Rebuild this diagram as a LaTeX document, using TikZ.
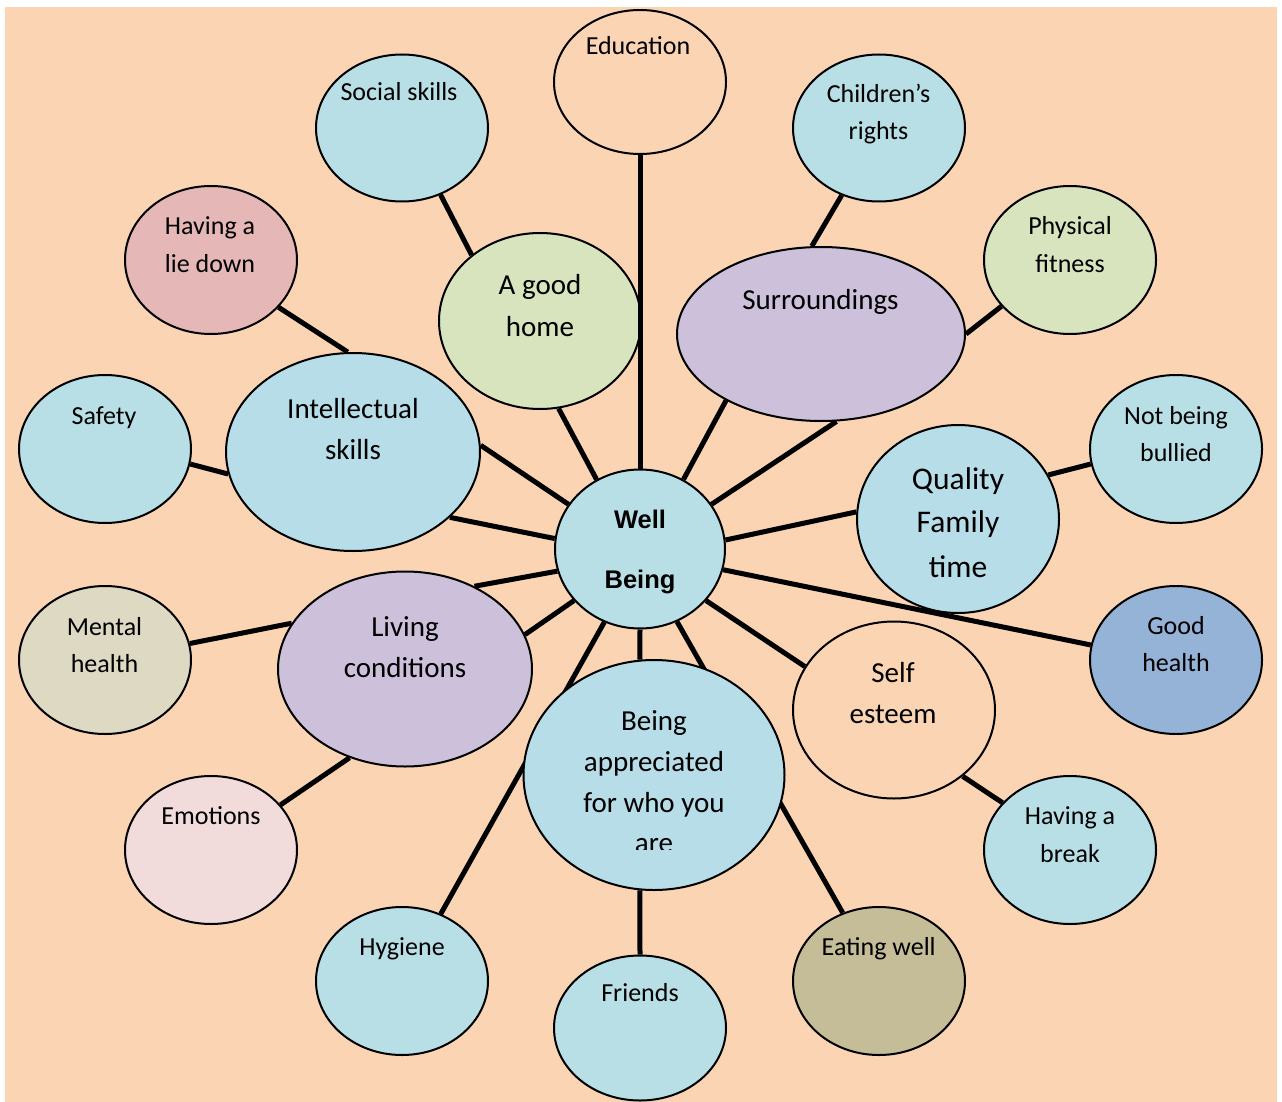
\documentclass[tikz,border=0pt]{standalone}
\usepackage{fontspec}
\newfontfamily\carl{Carlito}
\newfontfamily\arb{Liberation Sans}
\usetikzlibrary{shapes.geometric,backgrounds}
\definecolor{peach}{HTML}{FBD4B4}
\definecolor{cyanA}{HTML}{B8DFE5}
\definecolor{cyanB}{HTML}{B6DDE8}
\definecolor{greenA}{HTML}{D7E4BD}
\definecolor{lavA}{HTML}{CCC0DA}
\definecolor{pinkA}{HTML}{E5B8B7}
\definecolor{beigeA}{HTML}{DDD9C3}
\definecolor{blueA}{HTML}{95B3D7}
\definecolor{pinkB}{HTML}{F2DCDB}
\definecolor{oliveA}{HTML}{C4BD97}
\tikzset{
  bub/.style={ellipse, draw=black, line width=2pt, inner sep=0pt},
  sz/.style 2 args={minimum width=#1pt, minimum height=#2pt},
  ts/.style={anchor=base, inner sep=0pt, font=\carl\fontsize{26}{30}\selectfont},
  tm/.style={anchor=base, inner sep=0pt, font=\carl\fontsize{29}{34}\selectfont},
  tl/.style={anchor=base, inner sep=0pt, font=\carl\fontsize{31.5}{36}\selectfont},
  tb/.style={anchor=base, inner sep=0pt, font=\arb\bfseries\fontsize{25.5}{30}\selectfont},
  conn/.style={line width=5pt, draw=black}
}
\begin{document}
\begin{tikzpicture}[x=1pt,y=-1pt]
\useasboundingbox (0,0) rectangle (1282,1102);
\begin{scope}[on background layer]
  \fill[white] (0,0) rectangle (1282,1102);
  \fill[peach] (5,7) rectangle (1277,1102);
\end{scope}
% bubbles
\node[bub, fill=peach, sz={172}{144}] (edu) at (640,82) {};
\node[bub, fill=cyanA, sz={172}{147}] (soc) at (402,128) {};
\node[bub, fill=cyanA, sz={172}{147}] (chr) at (879,128) {};
\node[bub, fill=pinkA, sz={172}{148}] (lie) at (211,260) {};
\node[bub, fill=greenA, sz={202}{176}] (home) at (540,321) {};
\node[bub, fill=lavA, sz={288}{174}] (sur) at (821,334) {};
\node[bub, fill=greenA, sz={172}{148}] (fit) at (1070,260) {};
\node[bub, fill=cyanA, sz={172}{148}] (saf) at (105,449) {};
\node[bub, fill=cyanB, sz={254}{198}] (int) at (353,452) {};
\node[bub, fill=cyanA, sz={172}{148}] (bul) at (1176,449) {};
\node[bub, fill=cyanB, sz={202}{188}] (qft) at (958,519) {};
\node[bub, fill=cyanA, sz={170}{159}] (wb) at (640,549) {};
\node[bub, fill=beigeA, sz={172}{148}] (men) at (105,660) {};
\node[bub, fill=lavA, sz={254}{195}] (liv) at (405,669) {};
\node[bub, fill=blueA, sz={172}{148}] (gh) at (1176,660) {};
\node[bub, fill=peach, sz={202}{177}] (self) at (894,710) {};
\node[bub, fill=cyanB, sz={261}{230}] (app) at (654,775) {};
\node[bub, fill=pinkB, sz={172}{148}] (emo) at (211,850) {};
\node[bub, fill=cyanA, sz={172}{148}] (brk) at (1070,850) {};
\node[bub, fill=cyanA, sz={172}{148}] (hyg) at (402,981) {};
\node[bub, fill=cyanA, sz={172}{145}] (fri) at (640,1028) {};
\node[bub, fill=oliveA, sz={172}{148}] (eat) at (879,981) {};
% connectors
\begin{scope}[on background layer]
  \draw[conn] (home.-78) -- (wb.122);
  \draw[conn] (sur.215) -- (wb.58);
  \draw[conn] (sur.-80) -- (wb.32);
  \draw[conn] (int.3.6) -- (wb.148);
  \draw[conn] (int.-34.5) -- (wb.173);
  \draw[conn] (qft.176) -- (wb.6);
  \draw[conn] (wb.-14.5) -- (gh.170.5);
  \draw[conn] (liv.50) -- (wb.195);
  \draw[conn] (liv.16) -- (wb.218);
  \draw[conn] (wb.-38) -- (self.154);
  \draw[conn] (wb.270) -- (app.97);
  \draw[conn] (wb.244) -- (hyg.60);
  \draw[conn] (wb.-63) -- (eat.118);
  \draw[conn] (app.263) -- (fri.90);
  \draw[conn] (soc.-60) -- (home.136);
  \draw[conn] (chr.241) -- (sur.96);
  \draw[conn] (lie.-35) -- (int.93);
  \draw[conn] (fit.214.5) -- (sur.0.8);
  \draw[conn] (saf.-10.7) -- (int.190);
  \draw[conn] (bul.190.7) -- (qft.26.6);
  \draw[conn] (men.11.3) -- (liv.158);
  \draw[conn] (self.-44.6) -- (brk.145.5);
  \draw[conn] (liv.238) -- (emo.33.7);
\end{scope}
\draw[conn] (edu.270) -- (wb.90);
% texts
\node[ts] (t-edu) at (638,55) {Education};
\node[ts] (t-soc) at (399,101) {Social skills};
\node[ts] (t-chr1) at (878.5,103) {Children’s};
\node[ts] (t-chr2) at (878.5,140) {rights};
\node[ts] (t-lie1) at (210,234) {Having a};
\node[ts] (t-lie2) at (210,272) {lie down};
\node[tm] (t-home1) at (540,294) {A good};
\node[tm] (t-home2) at (540,336) {home};
\node[tm] (t-sur) at (820.5,309) {Surroundings};
\node[ts] (t-fit1) at (1070,234) {Physical};
\node[ts] (t-fit2) at (1070,272) {fitness};
\node[ts] (t-saf) at (104,424) {Safety};
\node[tm] (t-int1) at (353,418) {Intellectual};
\node[tm] (t-int2) at (353,459) {skills};
\node[ts] (t-bul1) at (1176,424) {Not being};
\node[ts] (t-bul2) at (1176,461) {bullied};
\node[tl] (t-qft1) at (958,489) {Quality};
\node[tl] (t-qft2) at (958,532) {Family};
\node[tl] (t-qft3) at (958,577) {time};
\node[tb] (t-wb1) at (640,528) {Well};
\node[tb] (t-wb2) at (640,588) {Being};
\node[ts] (t-men1) at (104.5,635) {Mental};
\node[ts] (t-men2) at (104.5,672) {health};
\node[tm] (t-liv1) at (405,636) {Living};
\node[tm] (t-liv2) at (405,677) {conditions};
\node[ts] (t-gh1) at (1176,634) {Good};
\node[ts] (t-gh2) at (1176,671) {health};
\node[tm] (t-self1) at (893,682) {Self};
\node[tm] (t-self2) at (893,723) {esteem};
\node[tm] (t-app1) at (654,730) {Being};
\node[tm] (t-app2) at (654,771) {appreciated};
\node[tm] (t-app3) at (654,812) {for who you};
\begin{scope}
  \clip (530,800) rectangle (780,849.5);
  \node[tm] (t-app4) at (654,852) {are};
\end{scope}
\node[ts] (t-emo) at (211,824) {Emotions};
\node[ts] (t-brk1) at (1070,824) {Having a};
\node[ts] (t-brk2) at (1070,862) {break};
\node[ts] (t-hyg) at (402,955) {Hygiene};
\node[ts] (t-fri) at (640,1001) {Friends};
\node[ts] (t-eat) at (878.7,955) {Eating well};
\end{tikzpicture}
\end{document}
